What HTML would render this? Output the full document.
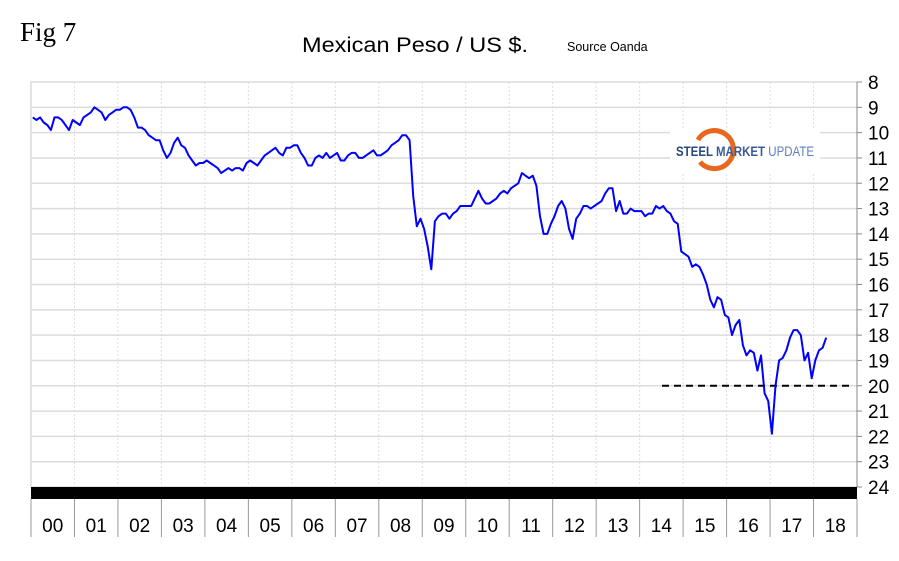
<!DOCTYPE html>
<html><head><meta charset="utf-8"><style>
html,body{margin:0;padding:0;background:#fff;}
body{width:899px;height:556px;overflow:hidden;position:relative;font-family:"Liberation Sans",sans-serif;}
</style></head><body>
<svg id="chart" width="899" height="556" xmlns="http://www.w3.org/2000/svg">
<text x="20" y="41" font-family="Liberation Serif,serif" font-size="27">Fig 7</text>
<text x="302" y="52" font-size="21" textLength="226" lengthAdjust="spacingAndGlyphs">Mexican Peso / US $.</text>
<text x="567" y="51" font-size="12.5">Source Oanda</text>
<g id="grid"></g>
<g id="logo">
<rect x="670" y="128" width="150" height="44" fill="#fff"/>
<path d="M698,140 A19,19 0 1 1 700,162" fill="none" stroke="#e8681f" stroke-width="5"/>
<text x="676" y="156" font-size="13.5" font-weight="bold" fill="#274a7a" textLength="138" lengthAdjust="spacingAndGlyphs">STEEL <tspan fill="#3a5d9a">MARKET</tspan> <tspan font-weight="normal" fill="#5b7fc0">UPDATE</tspan></text>
</g>
<g id="series"></g>
<g id="axes"></g>
</svg>
<script>
const years=["00","01","02","03","04","05","06","07","08","09","10","11","12","13","14","15","16","17","18"];
const yTicks=[8,9,10,11,12,13,14,15,16,17,18,19,20,21,22,23,24];
const rates=[
9.4,9.5,9.4,9.6,9.7,9.9,9.4,9.4,9.5,9.7,9.9,9.5,
9.6,9.7,9.4,9.3,9.2,9.0,9.1,9.2,9.5,9.3,9.2,9.1,
9.1,9.0,9.0,9.1,9.4,9.8,9.8,9.9,10.1,10.2,10.3,10.3,
10.7,11.0,10.8,10.4,10.2,10.5,10.6,10.9,11.1,11.3,11.2,11.2,
11.1,11.2,11.3,11.4,11.6,11.5,11.4,11.5,11.4,11.4,11.5,11.2,
11.1,11.2,11.3,11.1,10.9,10.8,10.7,10.6,10.8,10.9,10.6,10.6,
10.5,10.5,10.8,11.0,11.3,11.3,11.0,10.9,11.0,10.8,11.0,10.9,
10.8,11.1,11.1,10.9,10.8,10.8,11.0,11.0,10.9,10.8,10.7,10.9,
10.9,10.8,10.7,10.5,10.4,10.3,10.1,10.1,10.3,12.5,13.7,13.4,
13.8,14.5,15.4,13.5,13.3,13.2,13.2,13.4,13.2,13.1,12.9,12.9,
12.9,12.9,12.6,12.3,12.6,12.8,12.8,12.7,12.6,12.4,12.3,12.4,
12.2,12.1,12.0,11.6,11.7,11.8,11.7,12.1,13.3,14.0,14.0,13.6,
13.3,12.9,12.7,13.0,13.8,14.2,13.4,13.2,12.9,12.9,13.0,12.9,
12.8,12.7,12.4,12.2,12.2,13.1,12.7,13.2,13.2,13.0,13.1,13.1,
13.1,13.3,13.2,13.2,12.9,13.0,12.9,13.1,13.2,13.5,13.6,14.7,
14.8,14.9,15.3,15.2,15.3,15.6,16.0,16.6,16.9,16.5,16.6,17.2,
17.3,18.0,17.6,17.4,18.4,18.8,18.6,18.7,19.4,18.8,20.3,20.6,
21.9,20.0,19.0,18.9,18.6,18.1,17.8,17.8,18.0,19.0,18.7,19.7,
19.0,18.6,18.5,18.1];
const refLevel=[20];
const X0=31,X1=857,Y0=82,Y1=487;
const yw=(X1-X0)/years.length;
function xScale(m){return X0+m*(yw/12);}
function yScale(v){return Y0+(v-8)*(Y1-Y0)/16;}
const NS="http://www.w3.org/2000/svg";
function mk(t,a,p){const e=document.createElementNS(NS,t);for(const k in a)e.setAttribute(k,a[k]);p.appendChild(e);return e;}
const grid=document.getElementById('grid'),axes=document.getElementById('axes'),series=document.getElementById('series');
mk('rect',{x:X0,y:Y0,width:X1-X0,height:Y1-Y0,fill:'none',stroke:'#c8c8c8'},grid);
yTicks.forEach(v=>{
 const y=yScale(v);
 const l=mk('line',{x1:X0,x2:X1,y1:y,y2:y,stroke:'#dcdcdc','stroke-width':1.5},grid);
 
 
 mk('line',{x1:X1,x2:X1+5,y1:y,y2:y,stroke:'#888'},axes);
 const t=mk('text',{x:X1+11,y:y+7,'font-size':19},axes);
 t.textContent=v;
 
 
});
years.forEach((yr,i)=>{
 const x=X0+i*yw;
 if(i>0){const g=mk('line',{x1:x,x2:x,y1:Y0,y2:Y1,stroke:'#ddd','stroke-dasharray':'2,2'},grid);
 
 }
 mk('line',{x1:x,x2:x,y1:499,y2:537,stroke:'#999'},axes);
 const t=mk('text',{x:x+yw/2,y:532,'font-size':19,'text-anchor':'middle'},axes);
 t.textContent=yr;
 
 
});
mk('line',{x1:X1,x2:X1,y1:499,y2:537,stroke:'#999'},axes);
mk('line',{x1:X1,x2:X1,y1:Y0,y2:Y1,stroke:'#888'},axes);
const bar=mk('rect',{x:X0,y:Y1,width:X1-X0,height:12,fill:'#000'},axes);


const ref=mk('line',{x1:662,x2:849,y1:yScale(refLevel[0]),y2:yScale(refLevel[0]),stroke:'#000','stroke-width':2,'stroke-dasharray':'7,5'},series);


const pts=rates.map((v,i)=>xScale(i+0.5).toFixed(1)+','+yScale(v).toFixed(1)).join(' ');
const pl=mk('polyline',{points:pts,fill:'none',stroke:'#0000ff','stroke-width':2,'stroke-linejoin':'round'},series);


</script>
</body></html>
